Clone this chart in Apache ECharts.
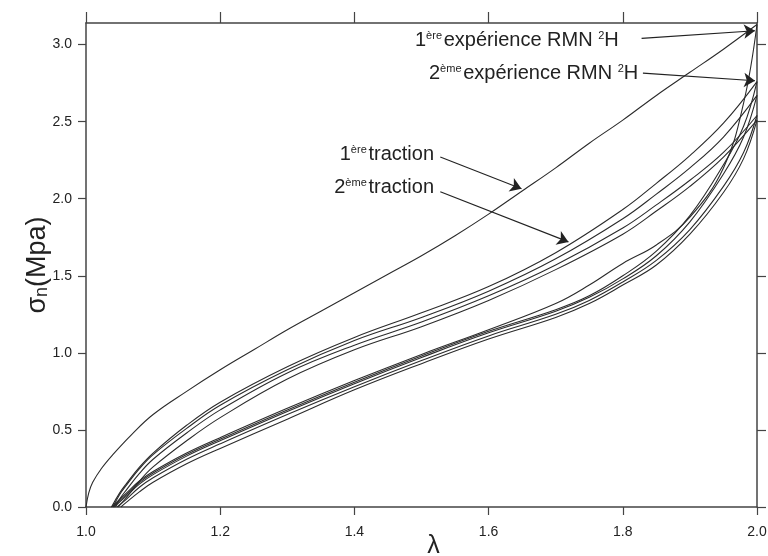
<!DOCTYPE html>
<html>
<head>
<meta charset="utf-8">
<script src="https://cdn.jsdelivr.net/npm/echarts@6/dist/echarts.min.js"></script>
<style>html,body{margin:0;padding:0;background:#fff}#c{width:768px;height:556px}</style>
</head>
<body>
<div id="c"></div>
<script>
// ---- tick labels ----
const xTicks = [1.0, 1.2, 1.4, 1.6, 1.8, 2.0];
const yTicks = [0.0, 0.5, 1.0, 1.5, 2.0, 2.5, 3.0];

// ---- 1ère traction (first loading) ----
const lamFirst = [1.000,1.004,1.010,1.023,1.040,1.068,1.100,1.150,1.200,1.250,1.300,1.350,1.400,1.450,1.500,1.550,1.600,1.650,1.700,1.750,1.800,1.850,1.900,1.950,2.000];
const sigFirst = [0,0.09,0.16,0.25,0.34,0.47,0.60,0.75,0.89,1.02,1.15,1.27,1.39,1.51,1.63,1.76,1.90,2.05,2.20,2.36,2.51,2.67,2.82,2.97,3.13];

// ---- reloading curves (upper bundle) ----
const lamReload = [1.05,1.06,1.08,1.10,1.15,1.20,1.30,1.40,1.50,1.60,1.70,1.80,1.85,1.90,1.95,2.00];
const reloadStart = [1.038, 1.040, 1.044, 1.048];
const sigReload1 = [0.09,0.15,0.26,0.35,0.53,0.68,0.91,1.10,1.26,1.43,1.65,1.93,2.10,2.28,2.49,2.76];
const sigReload2 = [0.08,0.14,0.25,0.34,0.51,0.66,0.89,1.08,1.23,1.40,1.61,1.87,2.03,2.20,2.40,2.67];
const sigReload3 = [0.05,0.11,0.22,0.31,0.48,0.63,0.87,1.05,1.20,1.37,1.57,1.81,1.96,2.12,2.30,2.54];
const sigReload4 = [0.01,0.06,0.17,0.26,0.43,0.58,0.83,1.02,1.17,1.34,1.54,1.77,1.92,2.08,2.27,2.51];

// ---- unloading curves (lower bundle) ----
const lamUnload = [1.06,1.08,1.10,1.15,1.20,1.30,1.40,1.50,1.60,1.70,1.75,1.80,1.85,1.90,1.95,1.98,2.00];
const unloadStart = [1.038, 1.040, 1.042, 1.046, 1.052];
const sigUnload0 = [0.09,0.17,0.23,0.35,0.45,0.64,0.82,0.99,1.15,1.32,1.44,1.58,1.70,1.88,2.20,2.62,3.13];
const sigUnload1 = [0.08,0.16,0.22,0.34,0.44,0.63,0.81,0.98,1.14,1.28,1.37,1.50,1.66,1.89,2.22,2.47,2.76];
const sigUnload2 = [0.07,0.15,0.21,0.33,0.43,0.62,0.80,0.97,1.13,1.27,1.36,1.48,1.63,1.85,2.16,2.40,2.67];
const sigUnload3 = [0.05,0.13,0.19,0.31,0.41,0.60,0.78,0.95,1.11,1.25,1.34,1.46,1.60,1.80,2.08,2.30,2.54];
const sigUnload4 = [0.03,0.10,0.16,0.28,0.38,0.57,0.76,0.93,1.09,1.23,1.32,1.44,1.57,1.77,2.04,2.26,2.51];

// ---- annotation arrows (data coordinates: [from, to]) ----
const arrowRMN1 = [[1.828, 3.04], [1.997, 3.09]];
const arrowRMN2 = [[1.830, 2.815], [1.997, 2.765]];
const arrowTr1 = [[1.528, 2.27], [1.649, 2.065]];
const arrowTr2 = [[1.528, 2.045], [1.719, 1.72]];

function zip(start, lam, sig) {
  const out = [];
  if (start !== null) out.push([start, 0]);
  for (let i = 0; i < lam.length; i++) out.push([lam[i], sig[i]]);
  return out;
}

const FONT = "'Liberation Sans', Arial, sans-serif";
const INK = '#222';
const lineStyle = { color: '#2b2b2b', width: 1.1 };

function curve(data) {
  return { type: 'line', data, showSymbol: false, smooth: 0.4, lineStyle, silent: true, animation: false, z: 3 };
}

const series = [
  curve(zip(null, lamFirst, sigFirst)),
  curve(zip(reloadStart[0], lamReload, sigReload1)),
  curve(zip(reloadStart[1], lamReload, sigReload2)),
  curve(zip(reloadStart[2], lamReload, sigReload3)),
  curve(zip(reloadStart[3], lamReload, sigReload4)),
  curve(zip(unloadStart[0], lamUnload, sigUnload0)),
  curve(zip(unloadStart[1], lamUnload, sigUnload1)),
  curve(zip(unloadStart[2], lamUnload, sigUnload2)),
  curve(zip(unloadStart[3], lamUnload, sigUnload3)),
  curve(zip(unloadStart[4], lamUnload, sigUnload4)),
  {
    type: 'line', data: [], silent: true,
    markLine: {
      silent: true, animation: false,
      symbol: ['none', 'arrow'], symbolSize: 11,
      label: { show: false },
      lineStyle: { color: INK, width: 1.1, type: 'solid' },
      emphasis: { disabled: true },
      data: [arrowRMN1, arrowRMN2, arrowTr1, arrowTr2].map(a => [{ coord: a[0] }, { coord: a[1] }])
    }
  }
];

const axisLineStyle = { color: '#444', width: 1.5 };
const tickStyle = { color: '#444', width: 1.2 };

const richT = {
  n: { fontSize: 20, fontFamily: FONT, fill: INK },
  s: { fontSize: 11, fontFamily: FONT, fill: INK, verticalAlign: 'top', lineHeight: 12 },
  sp: { fontSize: 6, fontFamily: FONT, fill: INK }
};

const option = {
  animation: false,
  backgroundColor: '#fff',
  grid: { left: 86, right: 11, top: 23, bottom: 49, containLabel: false, outerBoundsMode: 'none' },
  xAxis: [
    {
      type: 'value', min: 1, max: 2, interval: 0.2, position: 'bottom',
      axisLine: { onZero: false, lineStyle: axisLineStyle },
      axisTick: { length: 8, lineStyle: tickStyle },
      axisLabel: { margin: 18, fontSize: 14, fontFamily: FONT, color: INK, formatter: v => xTicks.some(t => Math.abs(t - v) < 1e-6) ? v.toFixed(1) : '' },
      splitLine: { show: false },
      name: 'λ', nameLocation: 'middle', nameGap: 27, nameMoveOverlap: false,
      nameTextStyle: { fontSize: 25, fontFamily: FONT, color: INK, padding: [0, 0, 0, 24] }
    },
    {
      type: 'value', min: 1, max: 2, interval: 0.2, position: 'top',
      axisLine: { onZero: false, lineStyle: axisLineStyle },
      axisTick: { length: 11, lineStyle: tickStyle },
      axisLabel: { show: false },
      splitLine: { show: false }
    }
  ],
  yAxis: [
    {
      type: 'value', min: 0, max: 3.14, interval: 0.5, position: 'left',
      axisLine: { onZero: false, lineStyle: axisLineStyle },
      axisTick: { length: 8, lineStyle: tickStyle, customValues: yTicks },
      axisLabel: { margin: 14, fontSize: 14, fontFamily: FONT, color: INK, customValues: yTicks, formatter: v => v.toFixed(1) },
      splitLine: { show: false },
      name: '{a|σ}{b|n}{a|(Mpa)}', nameLocation: 'middle', nameGap: 35, nameRotate: 90, nameMoveOverlap: false,
      nameTextStyle: {
        rich: {
          a: { fontSize: 27, fontFamily: FONT, color: INK },
          b: { fontSize: 18, fontFamily: FONT, color: INK, verticalAlign: 'bottom', lineHeight: 27 }
        }
      }
    },
    {
      type: 'value', min: 0, max: 3.14, interval: 0.5, position: 'right',
      axisLine: { onZero: false, lineStyle: axisLineStyle },
      axisTick: { length: 9, lineStyle: tickStyle, customValues: yTicks },
      axisLabel: { show: false },
      splitLine: { show: false }
    }
  ],
  graphic: [
    { type: 'text', left: 415, top: 30, silent: true,
      style: { text: '{n|1}{s|ère}{sp| }{n|expérience RMN }{s|2}{n|H}', rich: richT } },
    { type: 'text', left: 429, top: 63, silent: true,
      style: { text: '{n|2}{s|ème}{sp| }{n|expérience RMN }{s|2}{n|H}', rich: richT } },
    { type: 'text', right: 768 - 434, top: 144, silent: true,
      style: { text: '{n|1}{s|ère}{sp| }{n|traction}', rich: richT } },
    { type: 'text', right: 768 - 434, top: 177, silent: true,
      style: { text: '{n|2}{s|ème}{sp| }{n|traction}', rich: richT } }
  ],
  series
};

const chart = echarts.init(document.getElementById('c'), null, { renderer: 'canvas' });
chart.setOption(option);
</script>
</body>
</html>
